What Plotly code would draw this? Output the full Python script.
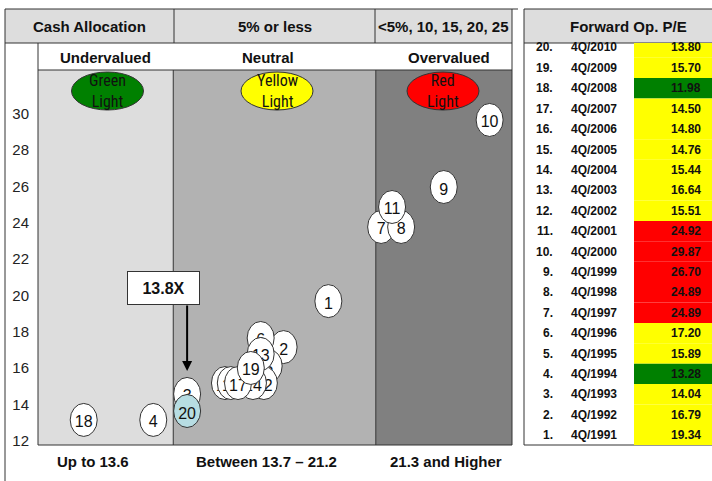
import plotly.graph_objects as go

# ---------------- data ----------------
point_ids = list(range(1, 21))
quarters = ["4Q/1991", "4Q/1992", "4Q/1993", "4Q/1994", "4Q/1995", "4Q/1996", "4Q/1997",
            "4Q/1998", "4Q/1999", "4Q/2000", "4Q/2001", "4Q/2002", "4Q/2003", "4Q/2004",
            "4Q/2005", "4Q/2006", "4Q/2007", "4Q/2008", "4Q/2009", "4Q/2010"]
fwd_pe = [19.34, 16.79, 14.04, 13.28, 15.89, 17.20, 24.89, 24.89, 26.70, 29.87,
          24.92, 15.51, 16.64, 15.44, 14.76, 14.80, 14.50, 11.98, 15.70, 13.80]
# bubble positions as plotted in the chart (x: valuation scale, y: P/E scale)
bubble_x = [19.47, 17.79, 14.17, 12.90, 17.23, 16.93, 21.45, 22.20, 23.80, 25.52,
            21.86, 17.05, 16.93, 16.64, 15.59, 15.81, 16.08, 10.29, 16.56, 14.17]
bubble_y = [19.68, 17.15, 14.57, 13.14, 16.11, 17.65, 23.76, 23.76, 25.96, 29.65,
            24.86, 15.17, 16.77, 15.17, 15.17, 15.17, 15.17, 13.14, 16.00, 13.63]
zone_bounds = [13.65, 21.25]
zone_names = ["Undervalued", "Neutral", "Overvalued"]
zone_lights = ["Green", "Yellow", "Red"]
cash_alloc = ["Cash Allocation", "5% or less", "<5%, 10, 15, 20, 25"]
zone_ranges = ["Up to 13.6", "Between 13.7 \u2013 21.2", "21.3 and Higher"]
y_ticks = [12, 14, 16, 18, 20, 22, 24, 26, 28, 30]
current_label = "13.8X"
table_title = "Forward Op. P/E"

# ---------------- styles ----------------
FONT = "Arial, Liberation Sans, sans-serif"
NARROW = "Liberation Sans Narrow, Arial Narrow, Roboto Condensed, sans-serif"
LINE = "#333333"
zone_fills = ["#DDDDDD", "#B2B2B2", "#808080"]
light_colors = ["#008000", "#FFFF00", "#FF0000"]
XR = [8.575, 26.36]
YR = [11.76, 32.40]

ML, MR, MT, MB = 38, 200, 70, 36
W, H = 712, 481
PW, PH = W - ML - MR, H - MT - MB
RX = 13.5 / (PW / (XR[1] - XR[0]))    # bubble half-width in x units
RY = 16.5 / (PH / (YR[1] - YR[0]))    # bubble half-height in y units


def X(px):
    return (px - ML) / PW


def Y(py):
    return (H - MB - py) / PH


shapes = []
annos = []


def rect(x0, y0, x1, y1, fill=None, line=None, layer="above"):
    shapes.append(dict(type="rect", xref="paper", yref="paper",
                       x0=X(x0), x1=X(x1), y0=Y(y1), y1=Y(y0),
                       fillcolor=fill or "rgba(0,0,0,0)",
                       line=dict(width=1 if line else 0, color=line or "rgba(0,0,0,0)"),
                       layer=layer))


def seg(x0, y0, x1, y1, color=LINE, width=1):
    shapes.append(dict(type="line", xref="paper", yref="paper",
                       x0=X(x0), x1=X(x1), y0=Y(y0), y1=Y(y1),
                       line=dict(color=color, width=width), layer="above"))


def text(px, py, s, size=15, bold=True, anchor="center", family=FONT, color="#111111"):
    annos.append(dict(xref="paper", yref="paper", x=X(px), y=Y(py), text=f"<b>{s}</b>" if bold else s,
                      showarrow=False, xanchor=anchor, yanchor="middle",
                      font=dict(family=family, size=size, color=color)))


# zone backgrounds (data x)
edges = [XR[0]] + zone_bounds + [XR[1]]
for i in range(3):
    shapes.append(dict(type="rect", xref="x", yref="paper", x0=edges[i], x1=edges[i + 1],
                       y0=0, y1=1, fillcolor=zone_fills[i], line=dict(width=0), layer="below"))
for b in zone_bounds:
    shapes.append(dict(type="line", xref="x", yref="paper", x0=b, x1=b, y0=0, y1=1,
                       line=dict(color=LINE, width=1), layer="above"))

# header rows
rect(5, 9, 512, 43, fill="#DDDDDD")
rect(38, 43, 512, 70, fill="#FFFFFF")
seg(5, 9, 518, 9)
seg(5, 43, 512, 43)
seg(38, 70, 512, 70)
seg(174, 9, 174, 43)
seg(375, 9, 375, 43)
seg(512, 9, 512, 445)
seg(38, 43, 38, 445)
seg(38, 445, 512, 445)
seg(5, 9, 5, 490)

hdr_x = [89.5, 274.5, 443.5]
for s, hx in zip(cash_alloc, hdr_x):
    text(hx, 26, s, size=15)
name_x = [105, 268, 449]
for s, nx in zip(zone_names, name_x):
    text(nx, 57, s, size=15)

# traffic-light ovals
oval_x = [107.5, 277, 443]
for lx, c, s in zip(oval_x, light_colors, zone_lights):
    shapes.append(dict(type="circle", xref="paper", yref="paper",
                       x0=X(lx - 36), x1=X(lx + 36), y0=Y(110), y1=Y(72),
                       fillcolor=c, line=dict(color=LINE, width=1), layer="above"))
    annos.append(dict(xref="paper", yref="paper", x=X(lx), y=Y(91), text=f"{s}<br>Light",
                      showarrow=False, xanchor="center", yanchor="middle",
                      font=dict(family=NARROW, size=16, color="#111111")))

# bottom range labels
range_x = [93, 266, 446]
for s, rx in zip(zone_ranges, range_x):
    text(rx, 462, s, size=15)

# bubbles (ellipses around data positions, drawn in id order)
for pid, bx, by in zip(point_ids, bubble_x, bubble_y):
    fill = "#B7DDE3" if pid == point_ids[-1] else "#FFFFFF"
    shapes.append(dict(type="circle", xref="x", yref="y",
                       x0=bx - RX, x1=bx + RX, y0=by - RY, y1=by + RY,
                       fillcolor=fill, line=dict(color=LINE, width=1), layer="above",
                       label=dict(text=str(pid), textposition="middle center", padding=0,
                                  font=dict(family=FONT, size=16, color="#111111"))))

# current-value callout
annos.append(dict(xref="paper", yref="paper", x=X(163.5), y=Y(288), text=f"<b>{current_label}</b>",
                  showarrow=False, xanchor="center", yanchor="middle",
                  width=69, height=30, bgcolor="#FFFFFF", bordercolor=LINE, borderwidth=1,
                  font=dict(family=FONT, size=16, color="#111111")))
annos.append(dict(xref="x", yref="y", x=bubble_x[-1], y=bubble_y[-1], text="",
                  showarrow=True, arrowhead=2, arrowsize=1, arrowwidth=2, arrowcolor="#000000",
                  ax=0, ay=-107, standoff=40))

# ---------------- right table ----------------
rect(524, 9, 712, 43, fill="#DDDDDD")
seg(524, 9, 712, 9)
seg(524, 43, 712, 43)
seg(524, 9, 524, 445)
seg(524, 445, 712, 445)
text(628, 27, table_title, size=15)

n = len(point_ids)
row_y = [47.5 + 20.4 * k for k in range(n)]  # top row = latest
bounds = [43] + [(row_y[k] + row_y[k + 1]) / 2 for k in range(n - 1)] + [445]
for k in range(n):
    i = n - 1 - k
    v = fwd_pe[i]
    if v < zone_bounds[0]:
        c = light_colors[0]
    elif v < zone_bounds[1]:
        c = light_colors[1]
    else:
        c = light_colors[2]
    rect(634, bounds[k], 714, bounds[k + 1], fill=c)
    text(555, row_y[k], f"{point_ids[i]}.", size=12, anchor="right")
    text(569, row_y[k], quarters[i], size=12, anchor="left")
    text(703, row_y[k], f"{v:.2f}", size=12, anchor="right")

fig = go.Figure()
fig.add_trace(go.Scatter(x=bubble_x, y=bubble_y, mode="markers", marker=dict(opacity=0, size=20),
                         text=[f"{q}: {v:.2f}" for q, v in zip(quarters, fwd_pe)],
                         hoverinfo="text", showlegend=False))
fig.update_layout(
    width=W, height=H, autosize=False,
    margin=dict(l=ML, r=MR, t=MT, b=MB, pad=0),
    paper_bgcolor="#FFFFFF", plot_bgcolor="#FFFFFF",
    xaxis=dict(range=XR, visible=False, fixedrange=True),
    yaxis=dict(range=YR, tickvals=y_ticks, ticktext=[str(t) for t in y_ticks],
               showgrid=False, zeroline=False, showline=False, ticks="",
               ticklabelstandoff=8, tickfont=dict(family=FONT, size=15, color="#222222"),
               fixedrange=True),
    shapes=shapes, annotations=annos, showlegend=False,
)
fig.write_html("out.html", config={"displayModeBar": False},
               post_script="document.body.style.margin='0';document.body.style.overflow='hidden';")
